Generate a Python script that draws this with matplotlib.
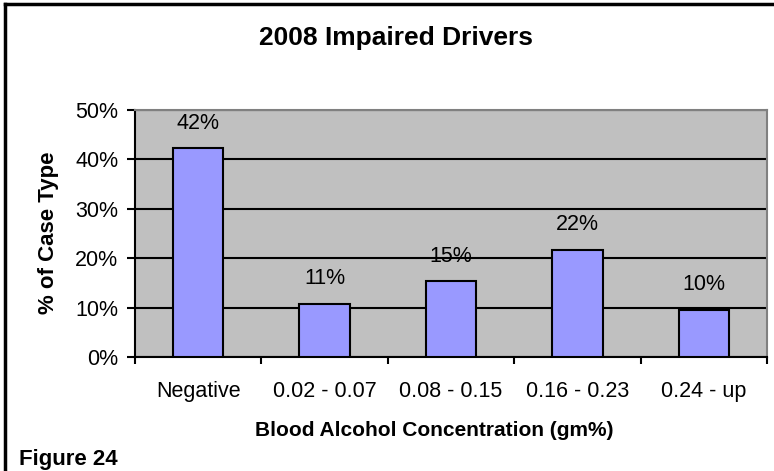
import matplotlib.pyplot as plt
from matplotlib.lines import Line2D

plt.rcParams['font.family'] = ['Liberation Sans', 'DejaVu Sans']

# datos
categorias = ['Negative', '0.02 - 0.07', '0.08 - 0.15', '0.16 - 0.23', '0.24 - up']
valores = [42.3, 10.8, 15.3, 21.7, 9.6]
etiquetas = ['42%', '11%', '15%', '22%', '10%']
yticks = [0, 10, 20, 30, 40, 50]

fig = plt.figure(figsize=(7.74, 4.71), dpi=100)
ax = fig.add_axes([135/774, 1 - 357/471, (767 - 135)/774, (357 - 110)/471])
ax.set_facecolor('#C0C0C0')

x = range(len(categorias))
ax.bar(x, valores, width=0.4, color='#9999FF', edgecolor='black', linewidth=1.5, zorder=3)

for i, v in enumerate(valores):
    ax.annotate(etiquetas[i], (i, v), xytext=(0, 18), textcoords='offset points',
                ha='center', va='center', fontsize=15.5, zorder=4)

ax.set_xlim(-0.5, len(categorias) - 0.5)
ax.set_ylim(0, 50)
ax.set_yticks(yticks)
ax.set_yticklabels([f'{t}%' for t in yticks], fontsize=15.5)
ax.yaxis.grid(True, color='black', linewidth=1.5, zorder=1)
ax.set_axisbelow(True)

# ticks del eje x en los limites entre categorias
ax.set_xticks([i - 0.5 for i in range(len(categorias) + 1)])
ax.set_xticklabels([])
ax.set_xticks(list(x), minor=True)
ax.set_xticklabels(categorias, minor=True, fontsize=15.5)
ax.tick_params(axis='x', which='major', direction='out', length=5, width=1.5)
ax.tick_params(axis='x', which='minor', length=0, pad=17)
ax.tick_params(axis='y', direction='out', length=6, width=1.5, pad=6)

for lado in ['left', 'bottom']:
    ax.spines[lado].set_color('black')
    ax.spines[lado].set_linewidth(1.5)
for lado in ['top', 'right']:
    ax.spines[lado].set_color('#808080')
    ax.spines[lado].set_linewidth(1.5)

fig.text(49/774, 1 - 233/471, '% of Case Type', rotation=90, ha='center', va='center',
         fontsize=16, fontweight='bold')
fig.text(255/774, 1 - 431/471, 'Blood Alcohol Concentration (gm%)', ha='left', va='center',
         fontsize=15, fontweight='bold')
fig.text(396/774, 1 - 38/471, '2008 Impaired Drivers', ha='center', va='center',
         fontsize=19, fontweight='bold')
fig.text(19/774, 1 - 459/471, 'Figure 24', ha='left', va='center',
         fontsize=16, fontweight='bold')

# borde exterior (solo izquierda y arriba visibles)
fig.add_artist(Line2D([5/774, 5/774], [0, 1 - 4/471], color='black', linewidth=2.5,
                      transform=fig.transFigure))
fig.add_artist(Line2D([5/774, 1], [1 - 4/471, 1 - 4/471], color='black', linewidth=2.5,
                      transform=fig.transFigure))

plt.savefig('out.png', dpi=100)
